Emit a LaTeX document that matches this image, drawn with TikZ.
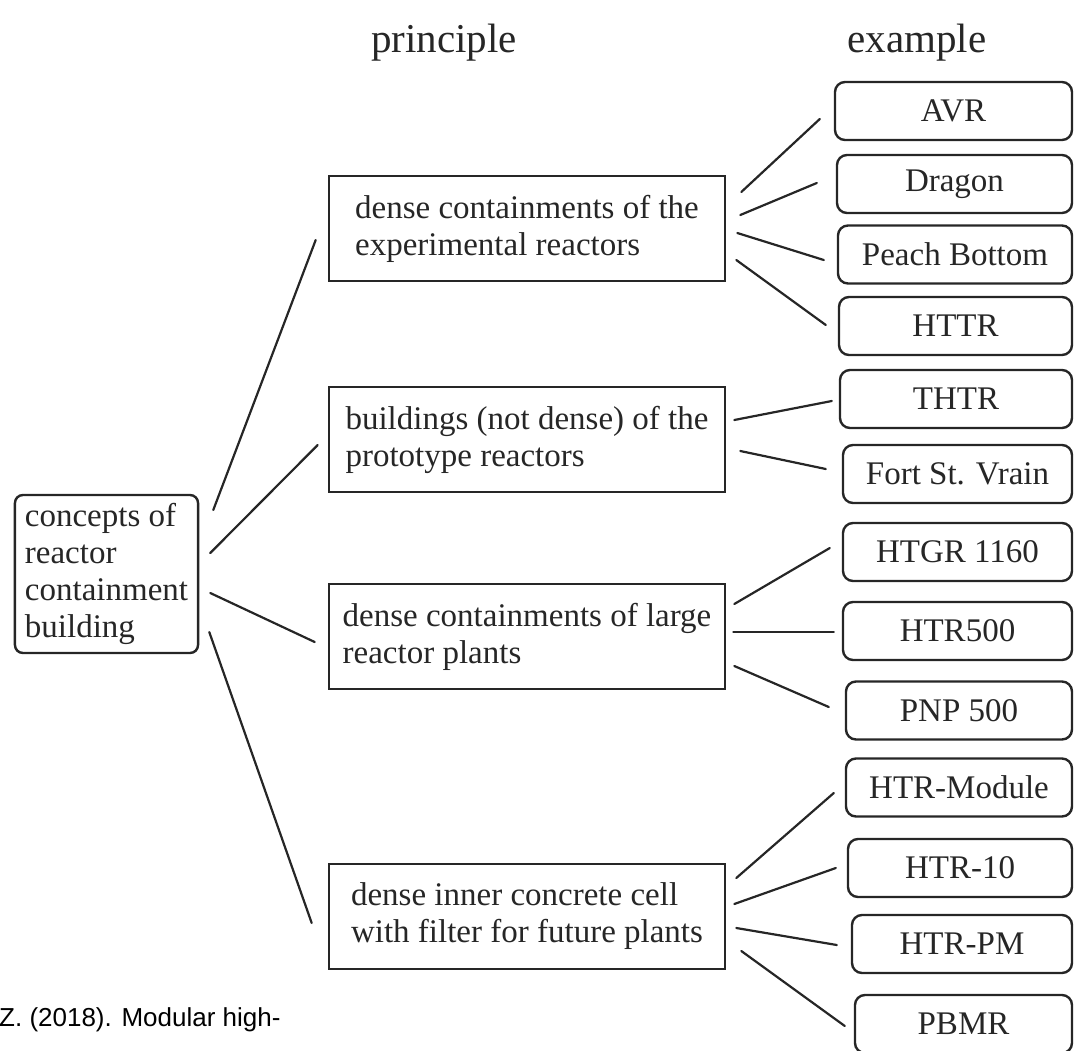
\documentclass[tikz,border=0pt]{standalone}
\usepackage{fontspec}
\setmainfont{Liberation Serif}
\newfontfamily\capfont{Liberation Sans}
\usepackage{tikz}
\usetikzlibrary{calc}

\begin{document}
\begin{tikzpicture}[
  x=1pt, y=-1pt,
  every node/.style={font=\fontsize{33}{37}\selectfont, text=black!85},
  rootbox/.style={draw=black!85, line width=2.4pt, rounded corners=8pt, align=left, inner xsep=10pt, minimum height=158pt},
  princ/.style={draw=black!85, line width=2.6pt, align=left, minimum width=396pt, minimum height=105pt},
  exbox/.style={draw=black!85, line width=2.4pt, rounded corners=10pt, minimum height=58pt},
  coltitle/.style={font=\fontsize{41}{45}\selectfont, anchor=base},
  link/.style={line width=2.2pt, draw=black!85, line cap=round}
]
\useasboundingbox (0,0) rectangle (1074,1050);

% column heads
\node[coltitle] (hprinc) at (444,52) {principle};
\node[coltitle] (hex) at (917,52) {example};

% root
\node[rootbox] (root) at (106.5,574) {concepts of\\reactor\\containment\\building};

% principles
\node[princ] (p1) at (527,228.5) {dense containments of the\\experimental reactors};
\node[princ] (p2) at (527,439.5) {buildings (not dense) of the\\prototype reactors};
\node[princ] (p3) at (527,636.5) {dense containments of large\\reactor plants};
\node[princ] (p4) at (527,916.5) {dense inner concrete cell\\with filter for future plants};

% examples
\node[exbox, minimum width=237pt] (e1) at (953.5,111) {AVR};
\node[exbox, minimum width=235pt] (e2) at (954.5,184) {Dragon};
\node[exbox, minimum width=234pt] (e3) at (955,254.5) {Peach Bottom};
\node[exbox, minimum width=233pt] (e4) at (955.5,326) {HTTR};
\node[exbox, minimum width=232pt] (e5) at (956,399) {THTR};
\node[exbox, minimum width=229pt] (e6) at (957.5,474) {Fort St. Vrain};
\node[exbox, minimum width=229pt] (e7) at (957.5,552) {HTGR 1160};
\node[exbox, minimum width=229pt] (e8) at (957.5,631) {HTR500};
\node[exbox, minimum width=226pt] (e9) at (959,710.5) {PNP 500};
\node[exbox, minimum width=226pt] (e10) at (959,787.5) {HTR-Module};
\node[exbox, minimum width=224pt] (e11) at (960,868) {HTR-10};
\node[exbox, minimum width=220pt] (e12) at (962,944) {HTR-PM};
\node[exbox, minimum width=217pt] (e13) at (963.5,1024) {PBMR};

% connectors
\foreach \a/\ax/\ay/\b/\bx/\by in {
    root/14/-64/p1/-12/11.5, root/11/-21/p2/-10/5.5,
    root/11/19/p3/-13/5.5, root/10/58/p4/-16/6.5,
    p1/15/-36.5/e1/-14/8, p1/14/-13.5/e2/-19/-1,
    p1/11/4.5/e3/-13/5.5, p1/10/31.5/e4/-12/-1,
    p2/8/-19.5/e5/-7/2, p2/14/11.5/e6/-16/-5,
    p3/8/-32.5/e7/-12/-4, p3/7/-4.5/e8/-8/1, p3/8/29.5/e9/-16/-3.5,
    p4/10/-38.5/e10/-11/5.5, p4/8/-12.5/e11/-11/0,
    p4/10/11.5/e12/-14/1, p4/15/34.5/e13/-9/2}
  \draw[link] ($(\a.east)+(\ax,\ay)$) -- ($(\b.west)+(\bx,\by)$);

% source line, cut at the page edge
\node[font=\capfont\fontsize{26}{30}\selectfont, text=black, anchor=base west, inner sep=0pt] (src) at (-1,1026) {Z. (2018). Modular high-};
\end{tikzpicture}
\end{document}
